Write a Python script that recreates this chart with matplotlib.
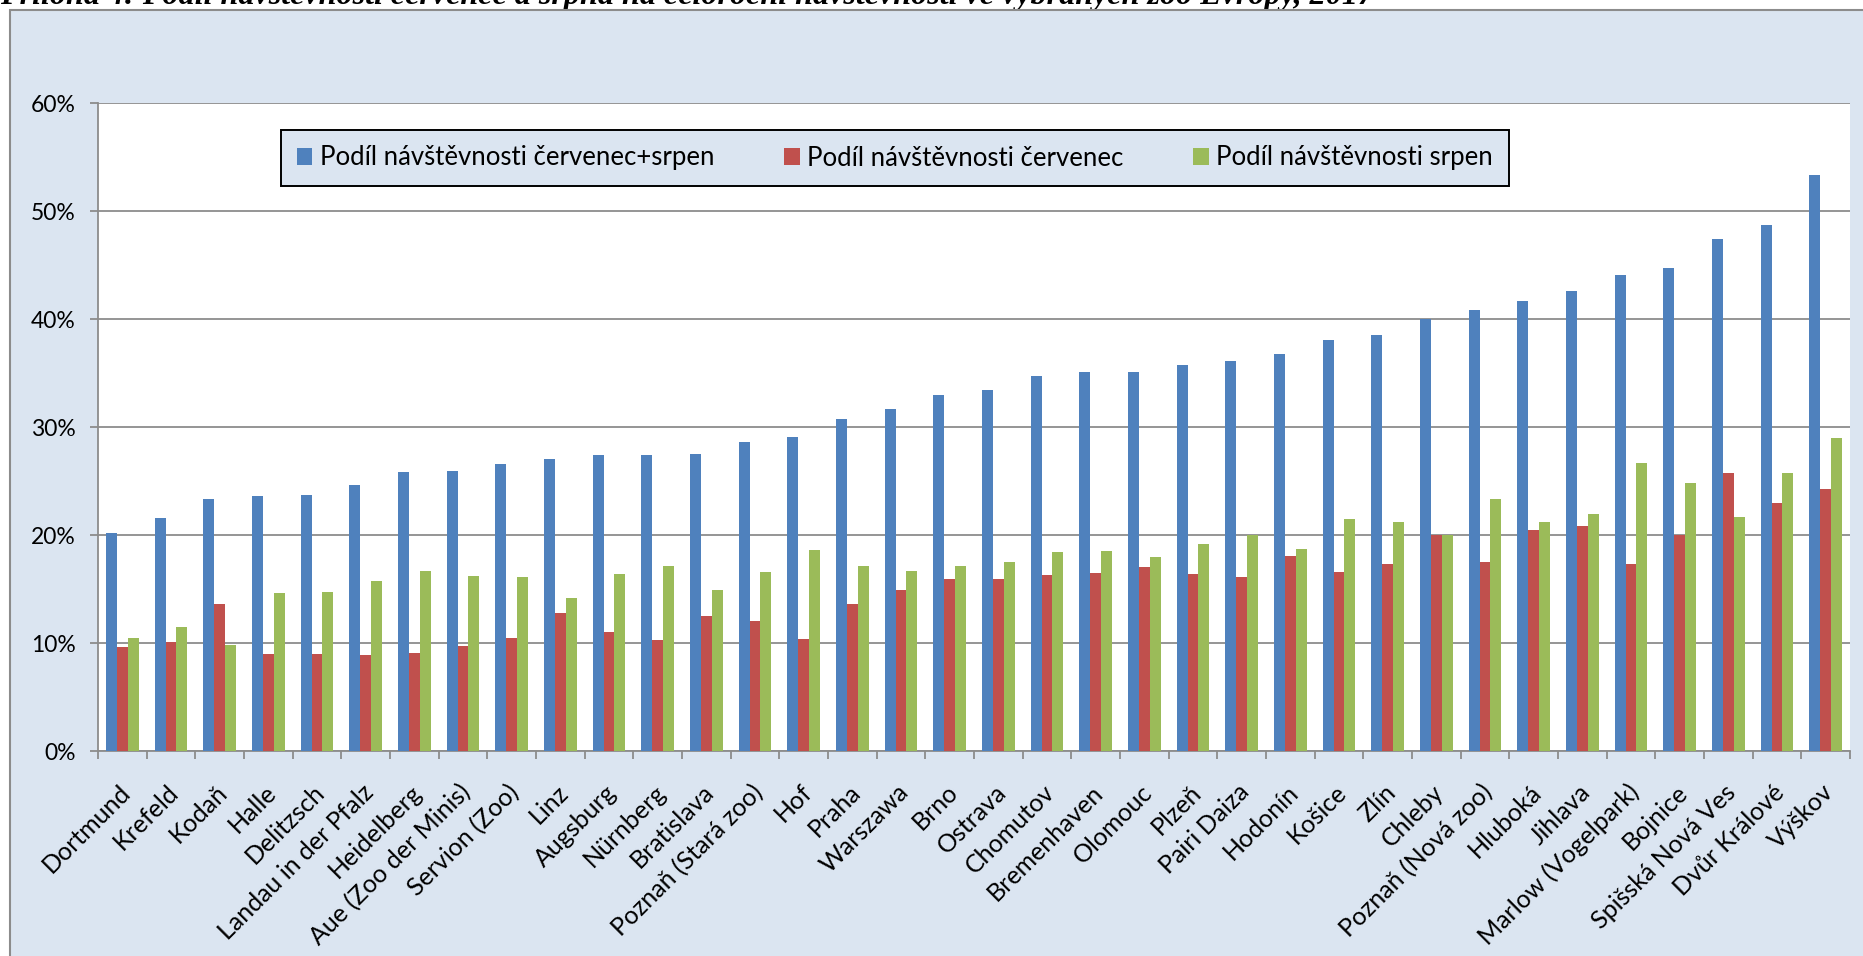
import numpy as np
import matplotlib.pyplot as plt
from matplotlib.patches import Rectangle
from matplotlib.ticker import FuncFormatter, FixedLocator
from matplotlib.transforms import ScaledTranslation

# Podíl návštěvnosti v červenci a srpnu, vybrané zoo Evropy (v %)
zoo = ["Dortmund", "Krefeld", "Kodaň", "Halle", "Delitzsch", "Landau in der Pfalz",
       "Heidelberg", "Aue (Zoo der Minis)", "Servion (Zoo)", "Linz", "Augsburg",
       "Nürnberg", "Bratislava", "Poznaň (Stará zoo)", "Hof", "Praha", "Warszawa",
       "Brno", "Ostrava", "Chomutov", "Bremenhaven", "Olomouc", "Plzeň", "Pairi Daiza",
       "Hodonín", "Košice", "Zlín", "Chleby", "Poznaň (Nová zoo)", "Hluboká", "Jihlava",
       "Marlow (Vogelpark)", "Bojnice", "Spišská Nová Ves", "Dvůr Králové", "Výškov"]
cervenec_srpen = [20.2, 21.6, 23.3, 23.6, 23.7, 24.6, 25.8, 25.9, 26.6, 27.0, 27.4, 27.4,
                  27.5, 28.6, 29.1, 30.7, 31.7, 33.0, 33.4, 34.7, 35.05, 35.1, 35.7, 36.1,
                  36.8, 38.1, 38.5, 40.0, 40.8, 41.7, 42.6, 44.1, 44.7, 47.4, 48.7, 53.3]
cervenec = [9.6, 10.1, 13.6, 9.0, 9.0, 8.9, 9.1, 9.7, 10.45, 12.8, 11.0, 10.3,
            12.5, 12.0, 10.4, 13.6, 14.9, 15.9, 15.9, 16.3, 16.5, 17.0, 16.4, 16.1,
            18.1, 16.6, 17.3, 20.0, 17.5, 20.5, 20.8, 17.3, 20.0, 25.7, 23.0, 24.3]
srpen = [10.5, 11.5, 9.8, 14.65, 14.7, 15.7, 16.7, 16.2, 16.1, 14.2, 16.4, 17.1,
         14.9, 16.6, 18.6, 17.1, 16.7, 17.1, 17.5, 18.4, 18.5, 18.0, 19.2, 20.0,
         18.7, 21.5, 21.2, 20.0, 23.3, 21.2, 21.9, 26.7, 24.8, 21.7, 25.7, 29.0]

nazvy = ["Podíl návštěvnosti červenec+srpen", "Podíl návštěvnosti červenec",
         "Podíl návštěvnosti srpen"]
barvy = ["#4F81BD", "#C0504D", "#9BBB59"]
titulek = ("Příloha 4: Podíl návštěvnosti července a srpna na celoroční návštěvnosti "
           "ve vybraných zoo Evropy, 2017")

plt.rcParams['font.family'] = ['Lato', 'DejaVu Sans']
W, H = 1863, 956
fig = plt.figure(figsize=(W / 100, H / 100), dpi=100)
fig.patch.set_facecolor("white")

# pozadí grafu (světle modrý rámeček, pravý a spodní okraj mimo obrázek)
pozadi = Rectangle((10 / W, -0.1), 1.2, 1 - 10 / H + 0.1, transform=fig.transFigure,
                   facecolor="#DBE5F1", edgecolor="#8C8C8C", linewidth=1.5, zorder=-1)
fig.patches.append(pozadi)

# titulek - v předloze je oříznutý horním okrajem
tt = fig.text(0.0, 1 - 4 / H, titulek, ha="left", va="baseline", fontsize=22,
              family="Liberation Serif", weight="bold", style="italic", zorder=-2)
fig.canvas.draw()
sirka = tt.get_window_extent().width
tt.set_fontsize(22 * 1370 / sirka)

ax = fig.add_axes([98 / W, (H - 751) / H, (1850 - 98) / W, (751 - 103) / H])
ax.set_facecolor("white")

x = np.arange(len(zoo))
w = 0.225
for i, (hodnoty, nazev, barva) in enumerate(zip([cervenec_srpen, cervenec, srpen], nazvy, barvy)):
    ax.bar(x + (i - 1) * w, hodnoty, width=w, color=barva, label=nazev, zorder=3,
           edgecolor="none")

ax.set_xlim(-0.5, len(zoo) - 0.5)
ax.set_ylim(0, 60)
ax.set_yticks(np.arange(0, 61, 10))
ax.yaxis.set_major_formatter(FuncFormatter(lambda v, p: f"{v:.0f}%"))
ax.grid(axis="y", color="#8C8C8C", linewidth=1.3, zorder=1)
ax.set_axisbelow(True)

for s in ["top", "right"]:
    ax.spines[s].set_visible(False)
for s in ["left", "bottom"]:
    ax.spines[s].set_color("#8C8C8C")
    ax.spines[s].set_linewidth(1.3)

ax.tick_params(axis="y", length=6, width=1.3, color="#8C8C8C", labelsize=16.5, pad=10)
ax.set_xticks(x)
ax.set_xticklabels(zoo, rotation=45, ha="right", va="center", rotation_mode="anchor",
                   fontsize=18)
ax.tick_params(axis="x", which="major", length=0, pad=27)
ax.xaxis.set_minor_locator(FixedLocator(np.arange(-0.5, len(zoo), 1.0)))
ax.tick_params(axis="x", which="minor", length=6, width=1.3, color="#8C8C8C")
posun = ScaledTranslation(4 / 100, 0, fig.dpi_scale_trans)
for lbl in ax.get_xticklabels():
    lbl.set_transform(lbl.get_transform() + posun)

x0 = (281 - 98) / (1850 - 98)
x1 = (1509 - 98) / (1850 - 98)
y0 = (751 - 189) / 648
y1 = (751 - 127) / 648
leg = ax.legend(loc="center", bbox_to_anchor=(x0, y0, x1 - x0, y1 - y0), mode="expand",
                ncol=3, fontsize=18.5, frameon=True, fancybox=False, borderpad=0.62,
                handlelength=0.6, handleheight=0.6, handletextpad=0.3,
                borderaxespad=0)
leg.get_frame().set_facecolor("#DBE5F1")
leg.get_frame().set_edgecolor("black")
leg.get_frame().set_linewidth(1.4)
leg.get_frame().set_alpha(1)

fig.savefig("out.png", dpi=100)
